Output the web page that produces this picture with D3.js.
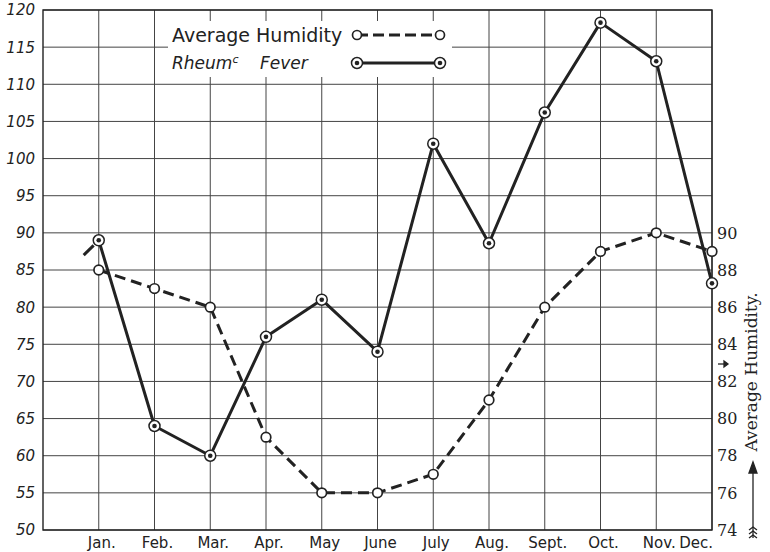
<!DOCTYPE html>
<html>
<head>
<meta charset="utf-8">
<script src="https://cdn.jsdelivr.net/npm/d3@7"></script>
<style>
  body { margin: 0; background: #fff; }
  text { fill: #222; }
</style>
</head>
<body>
<svg id="chart"></svg>
<script>
// data
const months = ["Jan.", "Feb.", "Mar.", "Apr.", "May", "June", "July", "Aug.", "Sept.", "Oct.", "Nov.", "Dec."];
const rheumFever = [89, 64, 60, 76, 81, 74, 102, 88.6, 106.2, 118.3, 113.1, 83.2];
const humidity = [88, 87, 86, 79, 76, 76, 77, 81, 86, 89, 90, 89];
// stub of previous December's humidity line coming in at the left
const humidityLead = [{m: -0.27, v: 88.8}, {m: 0, v: 89.6}];
const leftTicks = d3.range(50, 121, 5);
const rightTicks = d3.range(74, 91, 2);

const width = 770, height = 552;
const svg = d3.select("#chart")
    .attr("width", width)
    .attr("height", height);

// x: one empty column before Jan, Dec sits on the right frame
const x = d3.scaleLinear().domain([-1, 11]).range([43, 712]);
const y = d3.scaleLinear().domain([50, 120]).range([530, 10]);
const yHum = d3.scaleLinear().domain([74, 90]).range([530, y(90)]);

const ink = "#222";

// grid
const grid = svg.append("g").attr("stroke", "#444").attr("stroke-width", 1);
grid.selectAll("line.h")
  .data(leftTicks)
  .join("line")
    .attr("x1", x(-1)).attr("x2", x(11))
    .attr("y1", d => y(d)).attr("y2", d => y(d));
grid.selectAll("line.v")
  .data(months)
  .join("line")
    .attr("x1", (d, i) => x(i)).attr("x2", (d, i) => x(i))
    .attr("y1", y(120)).attr("y2", y(50));
svg.append("rect")
    .attr("x", x(-1)).attr("y", y(120))
    .attr("width", x(11) - x(-1)).attr("height", y(50) - y(120))
    .attr("fill", "none").attr("stroke", ink).attr("stroke-width", 1.4);

// legend box blanks out the grid
const lg = svg.append("g");
lg.append("rect")
    .attr("x", 168).attr("y", 21).attr("width", 284).attr("height", 56)
    .attr("fill", "#fff");
lg.append("text")
    .attr("x", 172).attr("y", 42)
    .style("font-family", "DejaVu Sans").style("font-size", "19px")
    .text("Average Humidity");
const rt = lg.append("text")
    .attr("x", 172).attr("y", 69)
    .style("font-family", "DejaVu Sans").style("font-style", "italic").style("font-size", "17px");
rt.append("tspan").text("Rheum");
rt.append("tspan").attr("dy", -6).style("font-size", "11px").text("c");
rt.append("tspan").attr("x", 260).attr("dy", 6).text("Fever");

lg.append("line")
    .attr("x1", 357).attr("x2", 440).attr("y1", 35).attr("y2", 35)
    .attr("stroke", ink).attr("stroke-width", 3).attr("stroke-dasharray", "11,5");
lg.append("line")
    .attr("x1", 357).attr("x2", 440).attr("y1", 63).attr("y2", 63)
    .attr("stroke", ink).attr("stroke-width", 3);
lg.selectAll("circle.h").data([357, 440]).join("circle")
    .attr("cx", d => d).attr("cy", 35).attr("r", 4.5)
    .attr("fill", "#fff").attr("stroke", ink).attr("stroke-width", 1.7);
lg.selectAll("circle.r").data([357, 440]).join("circle")
    .attr("cx", d => d).attr("cy", 63).attr("r", 5.5)
    .attr("fill", "#fff").attr("stroke", ink).attr("stroke-width", 1.5);
lg.selectAll("circle.rd").data([357, 440]).join("circle")
    .attr("cx", d => d).attr("cy", 63).attr("r", 2.3)
    .attr("fill", ink);

// left axis labels
svg.append("g")
  .selectAll("text")
  .data(leftTicks)
  .join("text")
    .attr("x", 35).attr("y", d => y(d))
    .attr("dy", "0.36em")
    .attr("text-anchor", "end")
    .style("font-family", "DejaVu Sans").style("font-style", "italic").style("font-size", "15px")
    .style("font-weight", 300)
    .text(d => d);

// right axis labels
svg.append("g")
  .selectAll("text")
  .data(rightTicks)
  .join("text")
    .attr("x", 717).attr("y", d => yHum(d))
    .attr("dy", "0.36em")
    .style("font-family", "DejaVu Serif").style("font-size", "16px")
    .text(d => d);

// month labels (Dec. pulled in so it clears the 74)
svg.append("g")
  .selectAll("text")
  .data(months)
  .join("text")
    .attr("x", (d, i) => i === 11 ? x(i) + 1 : x(i) + 3).attr("y", 548)
    .attr("text-anchor", (d, i) => i === 11 ? "end" : "middle")
    .style("font-family", "DejaVu Sans").style("font-size", "15px")
    .text(d => d);

// right axis title with arrow
svg.append("text")
    .attr("transform", `translate(757,${372}) rotate(-90)`)
    .attr("text-anchor", "middle")
    .style("font-family", "DejaVu Serif").style("font-size", "17px")
    .text("Average Humidity.");
const arr = svg.append("g").attr("stroke", ink).attr("stroke-width", 1.3).attr("fill", "none");
arr.append("line").attr("x1", 753).attr("x2", 753).attr("y1", 538).attr("y2", 466);
arr.append("path").attr("d", "M749,473 L753,462 L757,473 Z").attr("fill", ink);
arr.selectAll("path.f").data([527, 531, 535]).join("path")
    .attr("d", d => `M749,${d + 3} L753,${d} L757,${d + 3}`);
arr.append("path").attr("d", "M718,364 L727,364");
arr.append("path").attr("d", "M724,361 L728,364 L724,367 Z").attr("fill", ink);

// series
const humLine = d3.line().x(d => x(d.m)).y(d => yHum(d.v));
const humPts = humidity.map((v, i) => ({m: i, v}));
const rheumPts = rheumFever.map((v, i) => ({m: i, v}));

svg.append("path")
    .datum(humidityLead)
    .attr("d", humLine)
    .attr("fill", "none").attr("stroke", ink).attr("stroke-width", 3)
    .attr("stroke-dasharray", "14,20");

svg.append("path")
    .datum(humPts)
    .attr("d", humLine)
    .attr("fill", "none").attr("stroke", ink).attr("stroke-width", 3)
    .attr("stroke-dasharray", "11,6");

svg.append("path")
    .datum(rheumPts)
    .attr("d", d3.line().x(d => x(d.m)).y(d => y(d.v)))
    .attr("fill", "none").attr("stroke", ink).attr("stroke-width", 3)
    .attr("stroke-linejoin", "round");

svg.append("g")
  .selectAll("circle")
  .data(humPts)
  .join("circle")
    .attr("cx", d => x(d.m)).attr("cy", d => yHum(d.v)).attr("r", 4.8)
    .attr("fill", "#fff").attr("stroke", ink).attr("stroke-width", 1.7);

const rm = svg.append("g");
rm.selectAll("circle.o")
  .data(rheumPts)
  .join("circle")
    .attr("cx", d => x(d.m)).attr("cy", d => y(d.v)).attr("r", 5.5)
    .attr("fill", "#fff").attr("stroke", ink).attr("stroke-width", 1.5);
rm.selectAll("circle.i")
  .data(rheumPts)
  .join("circle")
    .attr("cx", d => x(d.m)).attr("cy", d => y(d.v)).attr("r", 2.3)
    .attr("fill", ink);
</script>
</body>
</html>
